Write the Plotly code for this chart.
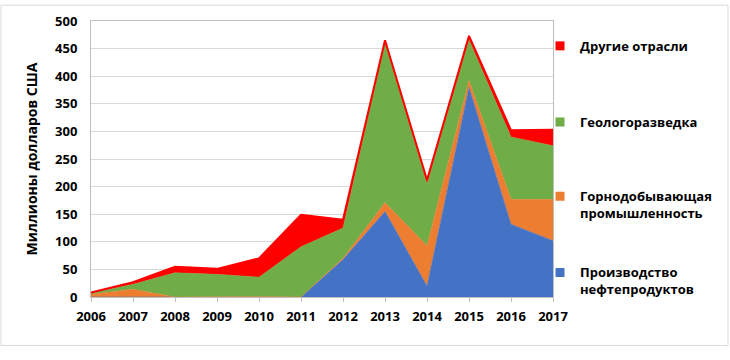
import plotly.graph_objects as go

years = [2006, 2007, 2008, 2009, 2010, 2011, 2012, 2013, 2014, 2015, 2016, 2017]
oil_products = [0, 0, 0, 0, 0, 0, 68, 155, 20, 380, 132, 102]
mining = [5, 14, 0, 1, 1, 0, 2, 16, 73, 12, 45, 75]
exploration = [2, 9, 44, 40, 35, 91, 55, 290, 112, 74, 113, 97]
other = [1, 4, 11, 10, 34, 58, 15, 4, 7, 7, 12, 29]

names = ["Производство<br>нефтепродуктов", "Горнодобывающая<br>промышленность",
         "Геологоразведка", "Другие отрасли"]
colors = ["#4472C4", "#ED7D31", "#70AD47", "#FF0000"]
series = [oil_products, mining, exploration, other]

FONT = "Open Sans"
W, H = 730, 360
ml, mr, mt, mb = 91, 177, 18, 63
pw, ph = W - ml - mr, H - mt - mb

# legend first-line text centre (px from top) for each series
legend_rows = [274, 197, 122, 45]
legend_ids = ["legend4", "legend3", "legend2", "legend"]

fig = go.Figure()
for i, (n, c, s) in enumerate(zip(names, colors, series)):
    fig.add_trace(go.Scatter(
        x=years, y=s, name=n, stackgroup="one", mode="lines",
        line=dict(color=c, width=2 if i == 3 else 0.5),
        fillcolor=c, showlegend=False,
    ))
for i, (n, c) in enumerate(zip(names, colors)):
    fig.add_trace(go.Scatter(
        x=[None], y=[None], name=n, mode="markers",
        marker=dict(symbol="square", size=9, color=c),
        legend=legend_ids[i], showlegend=True,
    ))

leg_common = dict(xanchor="left", yanchor="top", bgcolor="rgba(0,0,0,0)",
                  font=dict(family=FONT, size=13, color="black", weight="bold"),
                  valign="top", itemwidth=30)
legend_layout = {}
for i in range(4):
    legend_layout[legend_ids[i]] = dict(
        x=(540 - ml) / pw, y=(H - mb - (legend_rows[i] - 17)) / ph, **leg_common)

fig.update_layout(
    width=W, height=H,
    margin=dict(l=ml, r=mr, t=mt, b=mb),
    plot_bgcolor="white", paper_bgcolor="white",
    font=dict(family=FONT, size=13, color="black"),
    showlegend=True,
    xaxis=dict(range=[2006, 2017], tickmode="array", tickvals=years,
               ticktext=[str(y) for y in years], showgrid=False,
               ticks="outside", ticklen=4, tickcolor="#bfbfbf",
               ticklabelstandoff=3,
               tickfont=dict(family=FONT, size=13, weight="bold"),
               showline=True, linecolor="#bfbfbf", mirror=True, zeroline=False),
    yaxis=dict(range=[0, 500], dtick=50, showgrid=True, gridcolor="#d9d9d9",
               ticklabelstandoff=10,
               tickfont=dict(family=FONT, size=13, weight="bold"),
               showline=True, linecolor="#bfbfbf", mirror=True, zeroline=False,
               title=dict(text="Миллионы долларов США", standoff=14,
                          font=dict(family=FONT, size=14, weight="bold"))),
    shapes=[dict(type="rect", xref="paper", yref="paper",
                 x0=(1 - ml) / pw, x1=(W - 2 - ml) / pw,
                 y0=(H - mb - 346) / ph, y1=(H - mb - 2) / ph,
                 line=dict(color="#d9d9d9", width=1), layer="below")],
    **legend_layout,
)

fig.write_html("out.html", config={"displayModeBar": False},
               post_script="document.body.style.margin='0';document.body.style.overflow='hidden';")
